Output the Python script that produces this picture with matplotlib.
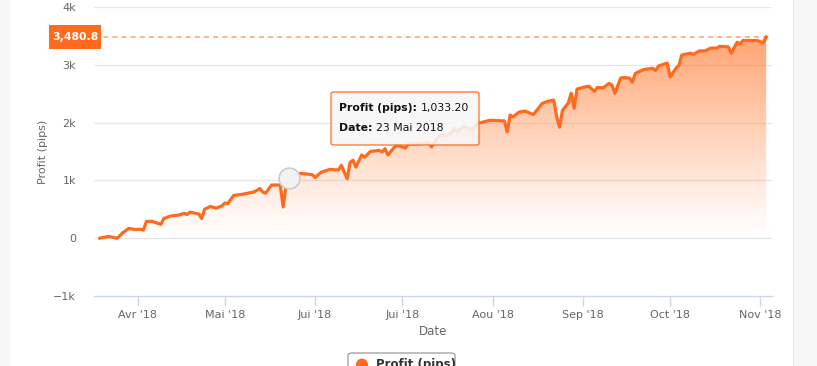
import numpy as np
import pandas as pd
import matplotlib
matplotlib.use("Agg")
import matplotlib.pyplot as plt
import matplotlib.dates as mdates
from matplotlib.patches import Rectangle, FancyBboxPatch, Ellipse

# Data
dates = [
    "2018-03-19", "2018-03-22", "2018-03-25", "2018-03-27", "2018-03-29", "2018-03-31",
    "2018-04-02", "2018-04-03", "2018-04-04", "2018-04-06", "2018-04-09", "2018-04-10",
    "2018-04-12", "2018-04-15", "2018-04-17", "2018-04-18", "2018-04-19", "2018-04-22",
    "2018-04-23", "2018-04-24", "2018-04-26", "2018-04-28", "2018-04-30", "2018-05-01",
    "2018-05-02", "2018-05-04", "2018-05-07", "2018-05-09", "2018-05-11", "2018-05-13",
    "2018-05-14", "2018-05-15", "2018-05-17", "2018-05-20", "2018-05-21", "2018-05-22",
    "2018-05-23", "2018-05-27", "2018-05-31", "2018-06-01", "2018-06-03", "2018-06-06",
    "2018-06-09", "2018-06-10", "2018-06-12", "2018-06-13", "2018-06-14", "2018-06-15",
    "2018-06-17", "2018-06-18", "2018-06-20", "2018-06-23", "2018-06-24", "2018-06-25",
    "2018-06-26", "2018-06-28", "2018-06-29", "2018-07-02", "2018-07-03", "2018-07-06",
    "2018-07-10", "2018-07-11", "2018-07-13", "2018-07-14", "2018-07-17", "2018-07-19",
    "2018-07-20", "2018-07-22", "2018-07-25", "2018-07-27", "2018-07-28", "2018-07-31",
    "2018-08-05", "2018-08-06", "2018-08-07", "2018-08-08", "2018-08-10", "2018-08-12",
    "2018-08-15", "2018-08-18", "2018-08-20", "2018-08-22", "2018-08-23", "2018-08-24",
    "2018-08-25", "2018-08-27", "2018-08-28", "2018-08-29", "2018-08-30", "2018-09-01",
    "2018-09-03", "2018-09-05", "2018-09-06", "2018-09-08", "2018-09-10", "2018-09-11",
    "2018-09-12", "2018-09-14", "2018-09-15", "2018-09-17", "2018-09-18", "2018-09-19",
    "2018-09-22", "2018-09-25", "2018-09-26", "2018-09-27", "2018-09-30", "2018-10-01",
    "2018-10-03", "2018-10-04", "2018-10-05", "2018-10-08", "2018-10-09", "2018-10-11",
    "2018-10-13", "2018-10-15", "2018-10-17", "2018-10-18", "2018-10-21", "2018-10-22",
    "2018-10-24", "2018-10-25", "2018-10-26", "2018-10-31", "2018-11-02", "2018-11-03",
]
profit = [
    0, 30, 0, 100, 170, 150,
    155, 140, 290, 290, 240, 340,
    380, 400, 430, 410, 450, 420,
    340, 500, 550, 520, 560, 610,
    600, 740, 760, 780, 800, 860,
    800, 780, 920, 920, 540, 920,
    1033.2, 1120, 1100, 1050, 1140, 1190,
    1180, 1260, 1030, 1310, 1350, 1230,
    1440, 1400, 1500, 1520, 1490, 1550,
    1440, 1560, 1610, 1560, 1630, 1630,
    1650, 1580, 1730, 1780, 1780, 1900,
    1840, 1940, 1870, 1990, 2000, 2040,
    2030, 1840, 2130, 2100, 2180, 2200,
    2140, 2330, 2370, 2390, 2100, 1920,
    2210, 2340, 2510, 2250, 2580, 2610,
    2630, 2540, 2610, 2600, 2680, 2650,
    2510, 2770, 2780, 2770, 2700, 2850,
    2920, 2940, 2900, 2980, 3030, 2790,
    2940, 2990, 3170, 3200, 3180, 3240,
    3240, 3290, 3290, 3320, 3310, 3200,
    3390, 3360, 3420, 3420, 3380, 3480.8,
]
tick_dates = ["2018-04-01", "2018-05-01", "2018-06-01", "2018-07-01",
              "2018-08-01", "2018-09-01", "2018-10-01", "2018-11-01"]
tick_labels = ["Avr '18", "Mai '18", "Jui '18", "Jui '18",
               "Aou '18", "Sep '18", "Oct '18", "Nov '18"]
y_ticks = [-1000, 0, 1000, 2000, 3000, 4000]
y_labels = ["\u22121k", "0", "1k", "2k", "3k", "4k"]
hover_date, hover_value = "2018-05-23", 1033.2
last_value = profit[-1]

orange = "#ff6a1c"
grey_txt = "#666666"

x = mdates.date2num(pd.to_datetime(dates))
y = np.array(profit)

fig = plt.figure(figsize=(8.17, 3.66), dpi=100)
W, H = 817, 366

# side panels of the page
fig.patches.append(Rectangle((0, 0), 11 / W, 1, transform=fig.transFigure,
                             facecolor="#f7f7f7", edgecolor="none"))
fig.patches.append(Rectangle((793 / W, 0), 1, 1, transform=fig.transFigure,
                             facecolor="#f7f7f7", edgecolor="none"))
fig.lines.append(plt.Line2D([793 / W, 793 / W], [0, 1], transform=fig.transFigure,
                            color="#e8e8e8", lw=0.8))

ax = fig.add_axes([94 / W, 1 - 296 / H, (772 - 94) / W, (296 - 7) / H])
ax.set_facecolor("none")

x_start = mdates.date2num(pd.Timestamp("2018-03-17"))
x_end = mdates.date2num(pd.Timestamp("2018-11-05"))
ax.set_xlim(x_start, x_end)
ax.set_ylim(-1000, 4000)

# grid
for v in y_ticks[1:]:
    ax.axhline(v, color="#e6e6e6", lw=0.9, zorder=0)

# gradient fill under the curve
grad = np.linspace(0, 1, 256)
rgba = np.zeros((256, 1, 4))
rgba[..., 0] = 1.0
rgba[..., 1] = 0.42
rgba[..., 2] = 0.10
rgba[:, 0, 3] = grad ** 1.1 * 0.62
img = ax.imshow(rgba, extent=[x[0], x[-1], 0, last_value], origin="lower",
                aspect="auto", zorder=1, interpolation="bicubic")
poly = ax.fill_between(x, y, 0, color="none")
img.set_clip_path(poly.get_paths()[0], transform=ax.transData)

# dashed line at last value
ax.axhline(last_value, color="#ffa77a", lw=1.2, ls=(0, (3, 2.5)), zorder=2)

ax.plot(x, y, color=orange, lw=2.3, zorder=3, solid_joinstyle="round")

# hover marker
hx = mdates.date2num(pd.Timestamp(hover_date))
ax.plot([hx], [hover_value], marker="o", ms=15, mfc="#f2f2f2", mec="#cccccc",
        mew=1.2, zorder=4)

# axes styling
for s in ["top", "right", "left"]:
    ax.spines[s].set_visible(False)
ax.spines["bottom"].set_color("#ccd6eb")
ax.spines["bottom"].set_linewidth(1.0)
ax.set_xticks(mdates.date2num(pd.to_datetime(tick_dates)))
ax.set_xticklabels(tick_labels, fontsize=8, color=grey_txt)
ax.tick_params(axis="x", length=7, width=1, color="#ccd6eb", pad=3)
ax.set_yticks(y_ticks)
ax.set_yticklabels(y_labels, fontsize=8, color=grey_txt)
ax.tick_params(axis="y", length=0, pad=13)
ax.set_xlabel("Date", fontsize=8.5, color=grey_txt, labelpad=4)
ax.set_ylabel("Profit (pips)", fontsize=8, color=grey_txt, labelpad=4)

# label of the last value
fig.patches.append(Rectangle((49 / W, 1 - 49 / H), 52 / W, 24 / H,
                             transform=fig.transFigure, fc=orange, ec="none",
                             zorder=5))
fig.text(75 / W, 1 - 37.5 / H, "3,480.8", fontsize=7.8, color="white",
         fontweight="bold", ha="center", va="center", zorder=6)

# tooltip
fig.patches.append(FancyBboxPatch((331 / W, 1 - 145 / H), 148 / W, 53 / H,
                                  boxstyle="round,pad=0,rounding_size=0.004",
                                  transform=fig.transFigure, fc="#f7f7f7",
                                  ec=orange, lw=1.0, alpha=0.88, zorder=5))
renderer = fig.canvas.get_renderer()
for row_y, bold, rest in [(108, "Profit (pips):", "1,033.20"),
                          (128, "Date:", "23 Mai 2018")]:
    t = fig.text(339 / W, 1 - row_y / H, bold, fontsize=7.8, fontweight="bold",
                 color="#111111", va="center", zorder=6)
    bb = t.get_window_extent(renderer)
    fig.text((bb.x1 + 4) / W, 1 - row_y / H, rest, fontsize=7.8, color="#111111",
             va="center", zorder=6)

# legend at the bottom (cut by the figure edge)
fig.patches.append(FancyBboxPatch((348 / W, -20 / H), 107 / W, 33 / H,
                                  boxstyle="round,pad=0,rounding_size=0.006",
                                  transform=fig.transFigure, fc="white",
                                  ec="#999999", lw=0.9, zorder=5))
fig.patches.append(Ellipse((362 / W, 1.5 / H), 12 / W, 12 / H,
                           transform=fig.transFigure, fc=orange, ec="none",
                           zorder=6))
fig.text(376 / W, 1 - 358 / H, "Profit (pips)", fontsize=8.5, fontweight="bold",
         color="#333333", va="top", zorder=6)

fig.savefig("out.png", dpi=100)
